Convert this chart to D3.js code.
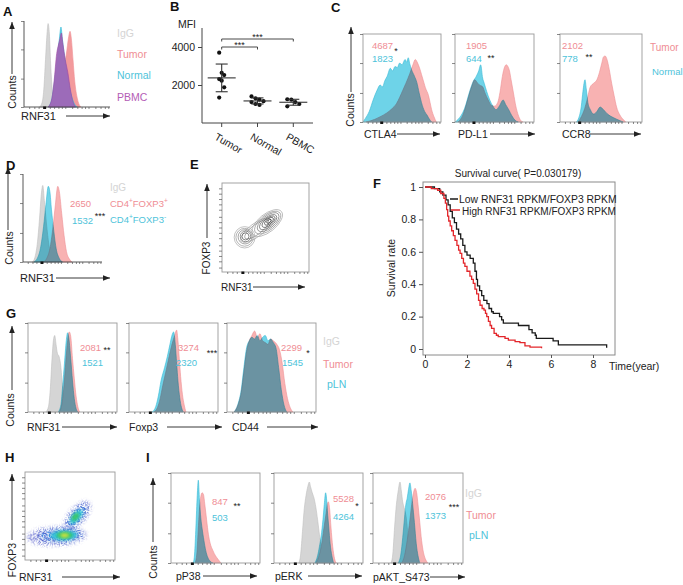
<!DOCTYPE html>
<html><head><meta charset="utf-8">
<script src="https://cdn.jsdelivr.net/npm/d3@7"></script>
<style>
body{margin:0;background:#fff;}
svg{display:block;font-family:"Liberation Sans",Arial,Helvetica,sans-serif;}
</style></head><body>
<script>
// ================= DATA =================
// Panel A : RNF31 histograms  [channel %, count %]
const aIgG    = [[18,0],[21,5],[23,20],[25,55],[27,88],[28,97],[29.5,85],[31,50],[33,18],[35,4],[37,0]];
const aTumor  = [[30,0],[35,10],[40,30],[45,45],[49,60],[52,82],[53.5,88],[55,80],[57,55],[59,30],[62,10],[66,0]];
const aNormal = [[28,0],[32,8],[36,35],[39,62],[41,78],[43,93],[44.5,80],[47,60],[50,40],[54,18],[58,5],[62,0]];
const aPBMC   = [[28,0],[32,8],[35,30],[38,62],[40,72],[42,80],[43.5,86],[45,75],[48,55],[51,40],[54,20],[57,6],[60,0]];
const aLegend = ["IgG","Tumor","Normal","PBMC"];

// Panel B : RNF31 MFI
const bCategories = ["Tumor","Normal","PBMC"];
const bTumor  = [3700,2640,2520,2310,2230,1880,1340];
const bNormal = [1400,1300,1230,1150,1100,1000,950];
const bPBMC   = [1250,1230,1100,1000,880];
const bYTicks = [2000,4000];
const bSig    = [["Tumor","Normal","***"],["Tumor","PBMC","***"]];

// Panel C : CTLA4 / PD-L1 / CCR8
const cMarkers   = ["CTLA4","PD-L1","CCR8"];
const cTumorMFI  = [4687,1905,2102];
const cNormalMFI = [1823,644,778];
const cSig       = ["*","**","**"];
const cCTLA4Tumor  = [[4,0],[15,3],[22,6],[30,10],[37,15],[43,21],[47,28],[51,36],[55,44],[60,55],[64,65],[67,71],[70,67],[73,60],[75,54],[78,45],[80,39],[84,30],[86,22],[88,14],[91,6],[94,0]];
const cCTLA4Normal = [[0,0],[3,4],[8,12],[13,25],[18,36],[22,42],[25,40],[28,47],[31,52],[35,61],[38,58],[41,63],[44,62],[47,67],[50,65],[54,71],[56,68],[58,73],[60,66],[62,60],[66,52],[69,45],[72,33],[75,22],[79,12],[82,8],[86,2],[88,0]];
const cPDL1Tumor   = [[4,0],[10,8],[16,25],[21,40],[25,48],[28,45],[31,42],[35,40],[38,33],[42,25],[46,19],[50,18],[54,22],[57,34],[60,52],[63,63],[65,65],[67,63],[69,58],[71,48],[74,33],[77,18],[80,8],[83,2],[86,0]];
const cPDL1Normal  = [[0,0],[4,3],[12,15],[19,36],[23,46],[27,52],[30,58],[32.5,65],[35,50],[37,44],[40,35],[44,25],[48,18],[52,14],[56,18],[61,25],[64,20],[68,14],[72,7],[76,2],[80,0]];
const cCCR8Tumor   = [[22,0],[26,6],[30,15],[33,25],[37,40],[41,44],[45,48],[48,56],[51,67],[53,74],[55,75],[57,72],[60,60],[63,44],[66,30],[69,17],[73,8],[77,3],[80,0]];
const cCCR8Normal  = [[20,0],[23,5],[26,18],[28,35],[30.5,48],[32,38],[34,22],[37,14],[41,9],[45,12],[49,17],[53,14],[58,9],[65,5],[72,2],[77,0]];

// Panel D : RNF31 in Treg vs Tconv
const dIgG    = [[12,0],[15,5],[18,20],[21,50],[23,75],[25,87],[27,70],[29,50],[32,25],[35,8],[38,0]];
const dFoxp3P = [[26,0],[30,4],[34,15],[38,40],[41,65],[44,86],[46,80],[49,55],[52,30],[55,12],[59,3],[62,0]];
const dFoxp3N = [[14,0],[18,4],[22,15],[26,40],[29,65],[32,86],[34,80],[36,60],[39,35],[42,15],[46,4],[50,0]];
const dMFI    = [2650,1532];

// Panel E : contour rings [cx, cy, rx, ry, angle, level]
const eContours = [
  [39,47,21,7.5,37,0],[40,48,17,5.5,37,1],
  [52,55,21,10,39,0],[52.5,55.5,18,8.5,39,1],[53,56,15,7,39,2],[53,56,12,5.5,39,3],[53.5,56.5,9,4.2,39,4],[54,57,6,3,39,5],[54,57,3,1.6,39,6],
  [26,39,12,12,0,0],[26,39,10,10,0,1],[26.5,39.5,8,8,0,2],[27,40,6,6,0,3],[27,40,4,4,0,4]
];

// Panel F : Kaplan-Meier  [years, survival]
const survLow  = [[0,1],[0.45,0.99],[0.7,0.97],[0.85,0.95],[1.0,0.92],[1.1,0.89],[1.2,0.85],[1.3,0.81],[1.4,0.78],[1.5,0.74],[1.6,0.71],[1.7,0.68],[1.8,0.64],[1.9,0.6],[2.0,0.58],[2.15,0.56],[2.3,0.53],[2.38,0.48],[2.45,0.43],[2.5,0.39],[2.6,0.36],[2.7,0.33],[2.8,0.3],[2.95,0.28],[3.05,0.25],[3.17,0.23],[3.25,0.22],[3.55,0.2],[3.65,0.18],[3.73,0.16],[4.45,0.145],[4.95,0.12],[5.1,0.1],[5.25,0.085],[5.3,0.065],[6.1,0.05],[6.35,0.025],[8.65,0.008]];
const survHigh = [[0,1],[0.3,0.99],[0.6,0.98],[0.75,0.96],[0.9,0.93],[0.97,0.9],[1.03,0.86],[1.08,0.82],[1.13,0.79],[1.2,0.76],[1.27,0.73],[1.35,0.7],[1.43,0.67],[1.52,0.64],[1.6,0.61],[1.67,0.59],[1.75,0.56],[1.83,0.53],[1.9,0.51],[2.0,0.48],[2.14,0.45],[2.22,0.43],[2.3,0.405],[2.38,0.37],[2.46,0.34],[2.55,0.3],[2.62,0.27],[2.72,0.25],[2.81,0.24],[2.88,0.22],[2.94,0.2],[3.02,0.17],[3.1,0.145],[3.17,0.127],[3.29,0.097],[3.4,0.085],[3.49,0.076],[3.81,0.066],[3.97,0.055],[4.29,0.045],[4.52,0.039],[4.76,0.019],[5.0,0.012],[5.55,0.004]];
const survXTicks = [0,2,4,6,8];
const survYTicks = [0,0.2,0.4,0.6,0.8,1];
const survLegend = ["Low RNF31 RPKM/FOXP3 RPKM","High RNF31 RPKM/FOXP3 RPKM"];

// Panel G : mouse tumor vs pLN
const gMarkers = ["RNF31","Foxp3","CD44"];
const gTumorMFI = [2081,3274,2299];
const gPlnMFI   = [1521,2320,1545];
const gSig      = ["**","***","*"];
const gRNF31IgG   = [[20,0],[23,6],[25,25],[27,60],[28.5,80],[30,86],[31.5,76],[33,66],[35,62],[37,50],[39,25],[41,8],[43,0]];
const gRNF31Tumor = [[35,0],[38,8],[40,25],[42,50],[44,75],[46.4,90],[48,85],[50,60],[52,38],[54,18],[56,6],[58,0]];
const gRNF31Pln   = [[34,0],[37,8],[39,30],[41,55],[43,80],[44.5,89],[46,82],[48,60],[50,35],[52,15],[54,4],[56,0]];
const gFoxp3Tumor = [[28,0],[32,5],[35,15],[38,30],[42,48],[45,62],[48,75],[51,85],[53.5,92],[55,80],[56.5,60],[58,40],[60,20],[62,8],[64,0]];
const gFoxp3Pln   = [[26,0],[30,6],[33,18],[36,35],[40,50],[43,62],[46,76],[48,85],[50,90],[52,76],[53.5,55],[55,35],[57,16],[59,5],[61,0]];
const gCD44Tumor  = [[8,0],[12,7],[16,22],[19,45],[22,68],[25,80],[28,86],[31,91],[34,84],[37,88],[40,80],[43,78],[46,76],[49,82],[52,80],[56,76],[59,70],[62,55],[65,32],[68,15],[71,5],[74,0]];
const gCD44Pln    = [[8,0],[12,8],[16,25],[19,50],[22,72],[25,80],[28,84],[31,82],[34,86],[37,80],[40,84],[43,86],[46,80],[49,82],[52,78],[55,72],[58,50],[61,25],[64,8],[67,0]];
const gLegend = ["IgG","Tumor","pLN"];

// Panel H : density regions [cx, cy, rx, ry, angle, level]
const hDensity = [
  [35,27,33,10,3,0],[58,50,20,9,49,0],
  [40,28,24,7.5,3,1],[58,50,15,6,49,1],
  [43,28,15,5.5,2,2],[57,49,10,4.5,49,2],
  [44,28,9,4,0,3],[56,49,5,3,49,3],
  [44,28,4.5,2.5,0,4]
];

// Panel I : signalling
const iMarkers = ["pP38","pERK","pAKT_S473"];
const iTumorMFI = [847,5528,2076];
const iPlnMFI   = [503,4264,1373];
const iSig      = ["**","*","***"];
const iP38Tumor = [[27,0],[29,10],[30.5,35],[32,60],[33.5,74],[35,78],[36.5,76],[38,65],[40,48],[42,32],[44,22],[47,14],[50,8],[53,4],[56,0]];
const iP38Pln   = [[25,0],[26.5,10],[28,40],[29.5,75],[30.7,92],[32,70],[33.5,50],[35,38],[37,25],[39,14],[41,7],[44,2],[47,0]];
const iERKIgG   = [[28,0],[30,10],[32,35],[34,60],[36,75],[38,85],[39.7,90],[41,85],[43,78],[45,72],[47,62],[49,48],[51,32],[53,18],[55,8],[58,0]];
const iERKTumor = [[47,0],[50,6],[53,18],[56,38],[58.5,55],[60,65],[61,68],[62.5,60],[64,40],[66,18],[68,5],[70,0]];
const iERKPln   = [[46,0],[49,8],[51,18],[53,30],[55,48],[56.5,65],[58,78],[59,72],[60,58],[61.5,40],[63,22],[65,8],[67,0]];
const iAKTIgG   = [[20,0],[22,10],[24,40],[26,65],[28,80],[30,90],[31.5,80],[33,68],[35,60],[37,50],[39,30],[41,12],[43,0]];
const iAKTTumor = [[32,0],[35,8],[38,25],[41,48],[43,65],[45,78],[46.7,83],[48.5,78],[50,65],[52,45],[54,25],[56,12],[58,5],[61,0]];
const iAKTPln   = [[28,0],[31,10],[33,28],[35,50],[36.5,65],[38,72],[39.5,82],[41,89],[42.5,80],[44,66],[46,45],[48,22],[50,8],[52,0]];

// flow-axis tick positions (channel %)
const flowYTicks = [0,33,67,100];
const flowXTicks = [6,12,17,30,35,40,44,48,56,62,67,71,75,83,89,94,98];
const flowZero = 24;

// ================= STYLE =================
const COL = {
  igg:"#d5d5d5", iggL:"#bfbfbf", iggT:"#d4d4d4",
  tum:"#f8b2b2", tumL:"#ee9096", tumT:"#ef8d94",
  nor:"#55cbe4", norL:"#35b9d5", norT:"#4ec3da",
  pb:"#a95ab2", pbT:"#b45db6", ax:"#555", box:"#9a9a9a"
};

const svg = d3.select("body").append("svg").attr("width",683).attr("height",585);
const defs = svg.append("defs");
defs.append("marker").attr("id","arr").attr("viewBox","0 0 10 8").attr("refX",10).attr("refY",4)
  .attr("markerWidth",7).attr("markerHeight",5.6).attr("markerUnits","userSpaceOnUse").attr("orient","auto")
  .append("path").attr("d","M0,0L10,4L0,8z").attr("fill","#222");
const sp = defs.append("filter").attr("id","speck").attr("x","-30%").attr("y","-30%").attr("width","160%").attr("height","160%");
sp.append("feGaussianBlur").attr("in","SourceGraphic").attr("stdDeviation",2.2).attr("result","b");
sp.append("feTurbulence").attr("type","fractalNoise").attr("baseFrequency",0.85).attr("numOctaves",1).attr("seed",4).attr("result","n");
sp.append("feColorMatrix").attr("in","n").attr("type","matrix").attr("values","0 0 0 0 0  0 0 0 0 0  0 0 0 0 0  7 0 0 0 -3.3").attr("result","m");
sp.append("feComposite").attr("in","b").attr("in2","m").attr("operator","in");
defs.append("filter").attr("id","soft").attr("x","-30%").attr("y","-30%").attr("width","160%").attr("height","160%")
  .append("feGaussianBlur").attr("stdDeviation",1.6);

function txt(x,y,s,o={}){
  const t = svg.append("text").attr("x",x).attr("y",y).text(s)
    .attr("font-size",o.size||10).attr("fill",o.fill||"#222")
    .attr("text-anchor",o.anchor||"start").attr("dominant-baseline","central")
    .attr("font-weight",o.weight||"normal");
  if(o.rotate) t.attr("transform",`rotate(${o.rotate},${x},${y})`);
  return t;
}
function arrow(x1,y1,x2,y2){
  svg.append("line").attr("x1",x1).attr("y1",y1).attr("x2",x2).attr("y2",y2)
    .attr("stroke","#222").attr("stroke-width",0.9).attr("marker-end","url(#arr)");
}
function panelLabel(x,y,s){ txt(x,y,s,{size:13,weight:"bold",fill:"#111"}); }

function flow(x,y,w,h,style){
  const xs = d3.scaleLinear().domain([0,100]).range([x,x+w]);
  const ys = d3.scaleLinear().domain([0,100]).range([y+h,y]);
  const g = svg.append("g");
  const gh = g.append("g").style("isolation","isolate");
  return {g,gh,xs,ys,x,y,w,h,style};
}
function hist(p,data,fill,stroke,mode,op){
  const area = d3.area().x(d=>p.xs(d[0])).y0(p.ys(0)).y1(d=>p.ys(d[1])).curve(d3.curveMonotoneX);
  p.gh.append("path").datum(data).attr("d",area).attr("fill",fill).attr("fill-opacity",op==null?1:op)
    .attr("stroke",stroke).attr("stroke-width",0.6).style("mix-blend-mode",mode||"normal");
}
function frame(p,yT,xT){
  const g = p.g;
  if(p.style==="box"){
    g.append("rect").attr("x",p.x).attr("y",p.y).attr("width",p.w).attr("height",p.h)
      .attr("fill","none").attr("stroke",COL.box).attr("stroke-width",0.9);
  } else {
    g.append("path").attr("d",`M${p.x},${p.y}V${p.y+p.h}H${p.x+p.w}`).attr("fill","none").attr("stroke","#444").attr("stroke-width",0.9);
  }
  const ya = g.append("g").attr("transform",`translate(${p.x},0)`)
    .call(d3.axisLeft(p.ys).tickValues(yT||flowYTicks).tickSize(3).tickFormat(""));
  const xa = g.append("g").attr("transform",`translate(0,${p.y+p.h})`)
    .call(d3.axisBottom(p.xs).tickValues(xT||flowXTicks).tickSize(2).tickFormat(""));
  [ya,xa].forEach(a=>{a.select(".domain").remove(); a.selectAll("line").attr("stroke",COL.ax).attr("stroke-width",0.7);});
  g.append("rect").attr("x",p.xs(flowZero)-1.5).attr("y",p.y+p.h-0.5).attr("width",3).attr("height",2.5).attr("fill","#111");
}

// ================= PANEL A =================
panelLabel(3,11,"A");
{
  const p = flow(24,21,86,86,"L");
  hist(p,aIgG,COL.igg,COL.iggL);
  hist(p,aTumor,"#f39a9c",COL.tumL);
  hist(p,aNormal,COL.nor,COL.norL);
  hist(p,aPBMC,COL.pb,"#9a4aa4","normal",0.85);
  frame(p);
  const lc=[COL.iggT,COL.tumT,COL.norT,COL.pbT];
  aLegend.forEach((s,i)=>txt(117,[33,54,75,97][i],s,{size:10.5,fill:lc[i]}));
  txt(12,92,"Counts",{size:10.5,rotate:-90,anchor:"middle"});
  arrow(12,74,12,22);
  txt(21,116,"RNF31",{size:11});
  arrow(66,116,110,116);
}

// ================= PANEL B =================
panelLabel(170,6,"B");
{
  const yB = d3.scaleLinear().domain([0,5000]).range([123,28]);
  const xB = d3.scalePoint().domain(bCategories).range([202,313]).padding(0.55);
  const ya = svg.append("g").attr("transform","translate(202,0)")
    .call(d3.axisLeft(yB).tickValues(bYTicks).tickSize(4).tickFormat(d3.format("d")));
  ya.select(".domain").attr("d","M0,28V123").attr("stroke","#444");
  ya.selectAll("line").attr("stroke","#444");
  ya.selectAll("text").attr("font-size",10.5).attr("fill","#222").attr("font-family","inherit");
  svg.append("line").attr("x1",202).attr("x2",313).attr("y1",123).attr("y2",123).attr("stroke","#444");
  bCategories.forEach(c=>{
    svg.append("line").attr("x1",xB(c)).attr("x2",xB(c)).attr("y1",123).attr("y2",127).attr("stroke","#444");
    txt(xB(c)-4,132,c,{size:10.5}).attr("dominant-baseline","hanging").attr("transform",`rotate(30,${xB(c)-4},132)`);
  });
  txt(187,24,"MFI",{size:10.5,anchor:"middle"});
  const groups = [bTumor,bNormal,bPBMC];
  groups.forEach((vals,gi)=>{
    const cx = xB(bCategories[gi]);
    const m = d3.mean(vals), sd = d3.deviation(vals);
    const spread = gi===0?2.5:4;
    vals.forEach((v,i)=>{
      const off = gi===0 ? ((i%3)-1)*spread : ((i%4)-1.5)*spread;
      svg.append("circle").attr("cx",cx+off).attr("cy",yB(v)).attr("r",2.1).attr("fill","#111");
    });
    const g = svg.append("g").attr("stroke","#333").attr("stroke-width",1.1);
    g.append("line").attr("x1",cx-14).attr("x2",cx+14).attr("y1",yB(m)).attr("y2",yB(m));
    g.append("line").attr("x1",cx).attr("x2",cx).attr("y1",yB(m-sd)).attr("y2",yB(m+sd));
    g.append("line").attr("x1",cx-6).attr("x2",cx+6).attr("y1",yB(m+sd)).attr("y2",yB(m+sd));
    g.append("line").attr("x1",cx-6).attr("x2",cx+6).attr("y1",yB(m-sd)).attr("y2",yB(m-sd));
  });
  bSig.forEach((s,i)=>{
    const y = yB(4000) - i*8, x1 = xB(s[0]), x2 = xB(s[1]);
    svg.append("path").attr("d",`M${x1},${y+2.5}V${y}H${x2}V${y+2.5}`).attr("fill","none").attr("stroke","#333").attr("stroke-width",0.9);
    txt((x1+x2)/2,y-2,s[2],{size:9,anchor:"middle"});
  });
}

// ================= PANEL C =================
panelLabel(331,7,"C");
{
  const boxes = [{x:363,w:78},{x:455,w:79},{x:560,w:82}];
  const dat = [[cCTLA4Tumor,cCTLA4Normal],[cPDL1Tumor,cPDL1Normal],[cCCR8Tumor,cCCR8Normal]];
  const numX=[372,466,562], sigPos=[[396,51],[491,58],[589,57]], arrX=[[397,440],[490,535],[590,641]], labX=[364,458,562];
  boxes.forEach((b,i)=>{
    const p = flow(b.x,34,b.w,88,"box");
    hist(p,dat[i][0],COL.tum,COL.tumL);
    hist(p,dat[i][1],COL.nor,COL.norL,"multiply",0.85);
    frame(p);
    txt(numX[i],45,cTumorMFI[i],{size:9.5,fill:COL.tumT});
    txt(numX[i],58,cNormalMFI[i],{size:9.5,fill:COL.norT});
    txt(sigPos[i][0],sigPos[i][1],cSig[i],{size:9,anchor:"middle"});
    txt(labX[i],134,cMarkers[i],{size:10.5});
    arrow(arrX[i][0],134,arrX[i][1],134);
  });
  txt(650,47,"Tumor",{size:10,fill:COL.tumT});
  txt(652,71,"Normal",{size:9.5,fill:COL.norT});
  txt(350,110,"Counts",{size:10.5,rotate:-90,anchor:"middle"});
  arrow(351,92,351,27);
}

// ================= PANEL D =================
panelLabel(6,165,"D");
{
  const p = flow(23,174,79,88,"L");
  hist(p,dIgG,COL.igg,COL.iggL);
  hist(p,dFoxp3P,COL.tum,COL.tumL);
  hist(p,dFoxp3N,COL.nor,COL.norL,"multiply",0.85);
  frame(p);
  txt(70,203,dMFI[0],{size:9.5,fill:COL.tumT});
  txt(72,220,dMFI[1],{size:9.5,fill:COL.norT});
  txt(100,216,"***",{size:9,anchor:"middle"});
  txt(110,187,"IgG",{size:10,fill:COL.iggT});
  const l1 = txt(110,203,"CD4",{size:9.5,fill:COL.tumT});
  l1.append("tspan").attr("font-size",6.5).attr("dy",-3).text("+");
  l1.append("tspan").attr("dy",3).text("FOXP3");
  l1.append("tspan").attr("font-size",6.5).attr("dy",-3).text("+");
  const l2 = txt(110,219,"CD4",{size:9.5,fill:COL.norT});
  l2.append("tspan").attr("font-size",6.5).attr("dy",-3).text("+");
  l2.append("tspan").attr("dy",3).text("FOXP3");
  l2.append("tspan").attr("font-size",6.5).attr("dy",-3).text("-");
  txt(9,248,"Counts",{size:10.5,rotate:-90,anchor:"middle"});
  arrow(8,230,8,167);
  txt(20,278,"RNF31",{size:11});
  arrow(56,278,110,278);
}

// ================= PANEL E =================
panelLabel(190,164,"E");
{
  const p = flow(222,183,87,89,"box");
  const kx = 0.87, ky = 0.89;
  const shade = d3.scaleLinear().domain([0,6]).range(["#a8a8a8","#2a2a2a"]);
  eContours.forEach(c=>{
    p.gh.append("ellipse").attr("cx",0).attr("cy",0).attr("rx",c[2]*kx).attr("ry",c[3]*ky)
      .attr("transform",`translate(${p.xs(c[0])},${p.ys(c[1])}) rotate(${-c[4]})`)
      .attr("fill","none").attr("stroke",shade(c[5])).attr("stroke-width",0.7);
  });
  frame(p,[5,12,18,24,30,38,44,50,56,62,70,76,82,88,94],flowXTicks);
  txt(206,258,"FOXP3",{size:10,rotate:-90,anchor:"middle"});
  arrow(207,238,207,184);
  txt(221,287,"RNF31",{size:10});
  arrow(253,287,305,287);
}

// ================= PANEL F =================
panelLabel(373,183,"F");
{
  const sx = d3.scaleLinear().domain([0,8]).range([425,593]);
  const sy = d3.scaleLinear().domain([0,1]).range([349,187]);
  svg.append("rect").attr("x",423).attr("y",182).attr("width",192).attr("height",173)
    .attr("fill","none").attr("stroke","#8a8a8a").attr("stroke-width",1);
  const ya = svg.append("g").attr("transform","translate(423,0)")
    .call(d3.axisLeft(sy).tickValues(survYTicks).tickSize(4).tickFormat(d=>d===0?"0":d===1?"1":d3.format(".1f")(d)));
  const xa = svg.append("g").attr("transform","translate(0,355)")
    .call(d3.axisBottom(sx).tickValues(survXTicks).tickSize(3).tickFormat(d3.format("d")));
  [ya,xa].forEach(a=>{a.select(".domain").remove(); a.selectAll("line").attr("stroke","#555");
    a.selectAll("text").attr("font-size",10.5).attr("fill","#222").attr("font-family","inherit");});
  const line = d3.line().x(d=>sx(d[0])).y(d=>sy(d[1])).curve(d3.curveStepAfter);
  svg.append("path").datum(survLow).attr("d",line).attr("fill","none").attr("stroke","#1a1a1a").attr("stroke-width",1.3);
  svg.append("path").datum(survHigh).attr("d",line).attr("fill","none").attr("stroke","#e3262b").attr("stroke-width",1.3);
  txt(518,173,"Survival curve( P=0.030179)",{size:10,anchor:"middle"});
  svg.append("line").attr("x1",450).attr("x2",458).attr("y1",199).attr("y2",199).attr("stroke","#1a1a1a").attr("stroke-width",1.5);
  txt(459,199,survLegend[0],{size:10.4});
  svg.append("line").attr("x1",451).attr("x2",460).attr("y1",210).attr("y2",210).attr("stroke","#e3262b").attr("stroke-width",1.5);
  txt(462,211,survLegend[1],{size:10});
  txt(391,268,"Survival rate",{size:10.5,rotate:-90,anchor:"middle"});
  txt(609,366,"Time(year)",{size:10.5});
}

// ================= PANEL G =================
panelLabel(6,313,"G");
{
  const xs=[28,129,227];
  const dat=[[gRNF31IgG,gRNF31Tumor,gRNF31Pln],[null,gFoxp3Tumor,gFoxp3Pln],[null,gCD44Tumor,gCD44Pln]];
  const numX=[[80,82],[178,176],[281,282]], sig=[[107,350],[212,353],[308,353]];
  const lab=[[27,62,117],[129,167,222],[232,267,318]];
  xs.forEach((x,i)=>{
    const p = flow(x,323,89,89,"box");
    if(dat[i][0]) hist(p,dat[i][0],COL.igg,COL.iggL);
    hist(p,dat[i][1],COL.tum,COL.tumL);
    hist(p,dat[i][2],COL.nor,COL.norL,"multiply",0.85);
    frame(p);
    txt(numX[i][0],347,gTumorMFI[i],{size:9.5,fill:COL.tumT});
    txt(numX[i][1],362,gPlnMFI[i],{size:9.5,fill:COL.norT});
    txt(sig[i][0],sig[i][1],gSig[i],{size:9,anchor:"middle"});
    txt(lab[i][0],427,gMarkers[i],{size:10.5});
    arrow(lab[i][1],427,lab[i][2],427);
  });
  const lc=[COL.iggT,COL.tumT,COL.norT];
  gLegend.forEach((s,i)=>txt(i===2?327:323,[341,364,384][i],s,{size:10.5,fill:lc[i]}));
  txt(10,410,"Counts",{size:10.5,rotate:-90,anchor:"middle"});
  arrow(12,390,12,326);
}

// ================= PANEL H =================
panelLabel(5,457,"H");
{
  const p = flow(25,472,90,88,"box");
  const kx=0.9, ky=0.88;
  const dcol=["#3d46c2","#2c7fe0","#25c2d6","#3cc85a","#e4e43c"];
  const gd = p.g.append("g");
  hDensity.forEach(c=>{
    gd.append("ellipse").attr("cx",0).attr("cy",0).attr("rx",c[2]*kx).attr("ry",c[3]*ky)
      .attr("transform",`translate(${p.xs(c[0])},${p.ys(c[1])}) rotate(${-c[4]})`)
      .attr("fill",dcol[c[5]]).attr("filter",c[5]<2?"url(#speck)":"url(#soft)")
      .attr("opacity",c[5]<2?0.95:0.9);
  });
  frame(p,[5,12,18,24,30,38,44,50,56,62,70,76,82,88,94],flowXTicks);
  txt(12,560,"FOXP3",{size:10.5,rotate:-90,anchor:"middle"});
  arrow(12,540,12,474);
  txt(19,577,"RNF31",{size:10.5});
  arrow(62,577,120,577);
}

// ================= PANEL I =================
panelLabel(146,457,"I");
{
  const bx=[{x:171,w:89},{x:274,w:89},{x:373,w:90}];
  const dat=[[null,iP38Tumor,iP38Pln],[iERKIgG,iERKTumor,iERKPln],[iAKTIgG,iAKTTumor,iAKTPln]];
  const numX=[212,333,425], numY=[[501,517],[498,516],[496,515]], sig=[[237,506],[357,506],[454,507]];
  const lab=[[176,576,203,257],[275,576,308,362],[373,577,430,465]];
  bx.forEach((b,i)=>{
    const p = flow(b.x,473,b.w,90,"box");
    if(dat[i][0]) hist(p,dat[i][0],COL.igg,COL.iggL);
    hist(p,dat[i][1],COL.tum,COL.tumL);
    hist(p,dat[i][2],COL.nor,COL.norL,"multiply",0.85);
    frame(p);
    txt(numX[i],numY[i][0],iTumorMFI[i],{size:9.5,fill:COL.tumT});
    txt(numX[i],numY[i][1],iPlnMFI[i],{size:9.5,fill:COL.norT});
    txt(sig[i][0],sig[i][1],iSig[i],{size:9,anchor:"middle"});
    txt(lab[i][0],lab[i][1],iMarkers[i],{size:10.5});
    arrow(lab[i][2],lab[i][1],lab[i][3],lab[i][1]);
  });
  const lc=[COL.iggT,COL.tumT,COL.norT];
  gLegend.forEach((s,i)=>txt([465,466,469][i],[493,515,535][i],s,{size:10.5,fill:lc[i]}));
  txt(153,562,"Counts",{size:10.5,rotate:-90,anchor:"middle"});
  arrow(153,542,153,478);
}
</script>
</body></html>
